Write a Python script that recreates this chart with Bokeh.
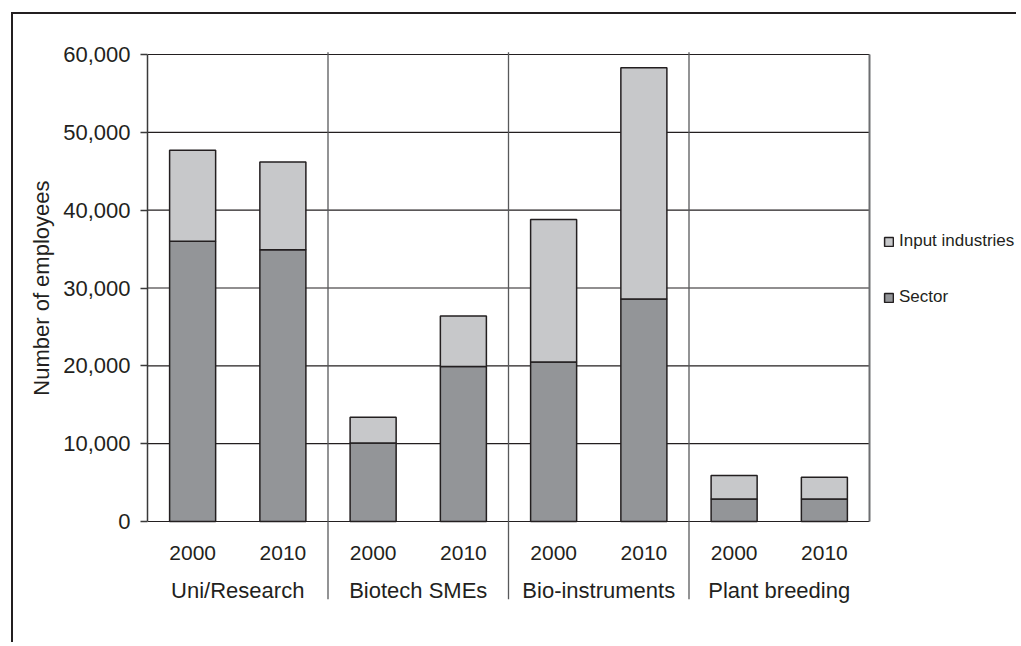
from bokeh.plotting import figure
from bokeh.models import (FixedTicker, NumeralTickFormatter, Range1d, ColumnDataSource,
                          Legend, LegendItem, Title)
from bokeh.core.properties import value
from bokeh.embed import file_html
from bokeh.resources import INLINE

# ---- data ----
groups = ["Uni/Research", "Biotech SMEs", "Bio-instruments", "Plant breeding"]
years = ["2000", "2010"]
sector = [36000, 34900, 10100, 19900, 20500, 28600, 2900, 2900]
total = [47700, 46200, 13400, 26400, 38800, 58300, 5900, 5700]
y_ticks = [0, 10000, 20000, 30000, 40000, 50000, 60000]

input_ind = [t - s for t, s in zip(total, sector)]
n = len(sector)
xs = [i + 0.5 for i in range(n)]
year_labels = [years[i % 2] for i in range(n)]

FONT = "Liberation Sans"
DARK = "#231f20"

# pixel-derived ranges: plotting area 722 px wide for the 8 bars, the frame
# continues to the right so that the legend sits inside it unclipped
px_per_unit = 467 / 60000.0
y_start = -89 / px_per_unit
y_end = 60000 + 4 / px_per_unit
x_end = n * 871 / 722.0

p = figure(width=1005, height=630, output_backend="svg", toolbar_location=None,
           x_range=Range1d(0, x_end), y_range=Range1d(y_start, y_end),
           x_axis_location=None, min_border_left=134, min_border_right=0,
           min_border_top=36, min_border_bottom=34)
p.styles = {"border-left": "2px solid #231f20", "border-top": "2px solid #231f20",
            "margin-left": "11px", "margin-top": "12px"}
p.outline_line_color = None
p.background_fill_color = "white"
p.border_fill_color = "white"

# y axis
yax = p.yaxis[0]
yax.ticker = FixedTicker(ticks=y_ticks)
yax.bounds = (0, 60000)
yax.formatter = NumeralTickFormatter(format="0,0")
yax.major_label_text_font = FONT
yax.major_label_text_font_size = "22px"
yax.major_label_text_color = DARK
yax.major_tick_out = 7
yax.major_tick_in = 0
yax.minor_tick_out = 0
yax.minor_tick_in = 0
yax.major_label_standoff = 10
yax.axis_line_color = "#3a3a3a"
yax.axis_line_width = 1.5
yax.major_tick_line_color = "#3a3a3a"
yax.major_tick_line_width = 1.5

# y-axis title, placed along the 0..60,000 span rather than the whole frame
ytitle = Title(text="Number of employees", align="right", offset=130, standoff=13,
               text_font=FONT, text_font_size="22px", text_font_style="normal",
               text_color=DARK)
p.add_layout(ytitle, "left")

p.xgrid.visible = False
p.ygrid.visible = False
# horizontal grid lines across the plotting area only
p.segment(x0=[0] * len(y_ticks), y0=y_ticks, x1=[n] * len(y_ticks), y1=y_ticks,
          line_color=DARK, line_width=1.2)

# right border of plotting area
p.segment(x0=[n], y0=[0], x1=[n], y1=[60000], line_color="#6d6e71", line_width=2)

# group separators
seps = [2 * (g + 1) for g in range(len(groups) - 1)]
p.segment(x0=seps, y0=[60300] * len(seps), x1=seps, y1=[-10000] * len(seps),
          line_color="#58595b", line_width=1.3)

src = ColumnDataSource(dict(x=xs, sector=sector, total=total, inp=input_ind))
r_sector = p.vbar(x="x", width=0.51, bottom=0, top="sector", source=src,
                  fill_color="#939598", line_color=DARK, line_width=1.5)
r_input = p.vbar(x="x", width=0.51, bottom="sector", top="total", source=src,
                 fill_color="#c7c8ca", line_color=DARK, line_width=1.5)

# category labels under the baseline
p.text(x=xs, y=[-4111] * n, text=year_labels, text_font=value(FONT),
       text_font_size="21px", text_align="center", text_baseline="middle",
       text_color=DARK)
gx = [2 * g + 1 for g in range(len(groups))]
p.text(x=gx, y=[-8865] * len(groups), text=groups, text_font=value(FONT),
       text_font_size="22px", text_align="center", text_baseline="middle",
       text_color=DARK)

legend = Legend(items=[LegendItem(label="Input industries", renderers=[r_input]),
                       LegendItem(label="Sector", renderers=[r_sector])],
                location=(736, 303), orientation="vertical",
                glyph_width=11, glyph_height=11, label_height=20,
                spacing=36, padding=0, margin=0, label_standoff=5,
                border_line_color=None, background_fill_alpha=0,
                label_text_font=FONT, label_text_font_size="17px",
                label_text_color=DARK)
p.add_layout(legend, "center")

open("out.html", "w").write(file_html(p, INLINE))
